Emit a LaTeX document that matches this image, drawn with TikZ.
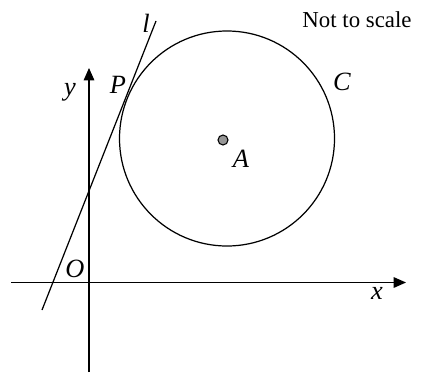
\documentclass[tikz,border=0pt]{standalone}
\usepackage{fontspec}
\setmainfont{Liberation Serif}
\usetikzlibrary{arrows.meta}
\begin{document}
\begin{tikzpicture}[x=0.02cm,y=-0.02cm]
		\tikzstyle{every node}=[font=\fontsize{13pt}{16pt}\selectfont, inner sep=0pt]
		\tikzset{axis/.style={line width=0.7pt, -{Triangle[length=7pt,width=6pt]}},
			curve/.style={line width=0.7pt},
			mark label/.style={font=\fontsize{15pt}{18pt}\selectfont\itshape}}
		\useasboundingbox (0,0) rectangle (431,372);
		
		% axes
		\coordinate (xs) at (11,282.5);
		\coordinate (xe) at (406,282.5);
		\coordinate (ys) at (89,372);
		\coordinate (ye) at (89,68);
		\draw[axis] (xs) -- (xe);
		\draw[axis] (ys) -- (ye);
		
		% circle and tangent
		\coordinate (A) at (227,138.5);
		\draw[curve] (A) circle[radius=107.5];
		\coordinate (ls) at (42,310);
		\coordinate (le) at (156,21);
		\draw[curve] (ls) -- (le);
		\filldraw[fill={rgb,255:red,150; green,150; blue,150}, line width=0.6pt] (223,140) circle[radius=5];
		
		% labels
		\node[mark label] (lbl-l) at (146,23) {l};
		\node[mark label] (lbl-y) at (70,92) {y};
		\node[mark label] (lbl-P) at (118,85) {P};
		\node[mark label] (lbl-C) at (342,82) {C};
		\node[mark label] (lbl-A) at (241,159) {A};
		\node[mark label] (lbl-O) at (75,269) {O};
		\node[mark label] (lbl-x) at (377,293) {x};
		\node (note) at (357,20) {Not to scale};
		
	\end{tikzpicture}
\end{document}
